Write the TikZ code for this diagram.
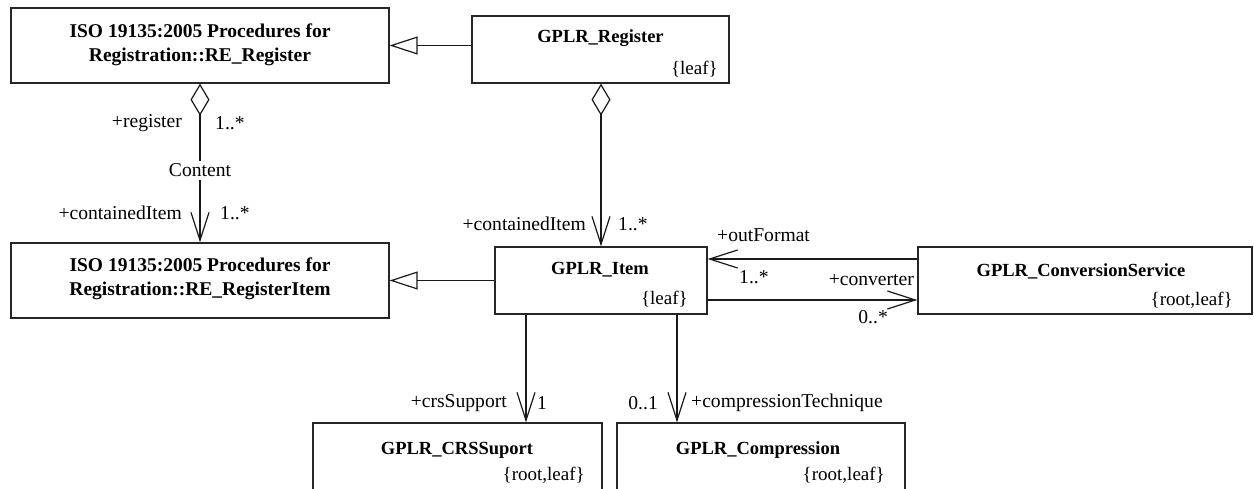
\documentclass[tikz,border=0pt]{standalone}
\usepackage{fontspec}
\setmainfont{Liberation Serif}
\usetikzlibrary{arrows.meta}
\begin{document}
\begin{tikzpicture}[x=1pt,y=-1pt,
  box/.style={draw=black!85,line width=1.3pt,rectangle,inner sep=0pt,anchor=center},
  ttl/.style={font=\fontsize{18.5}{24}\selectfont\bfseries,inner sep=0pt,align=center},
  bigttl/.style={font=\fontsize{19.5}{24}\selectfont\bfseries,inner sep=0pt,align=center},
  stereo/.style={font=\fontsize{19}{22}\selectfont,inner sep=0pt,anchor=east},
  lbl/.style={font=\fontsize{19.6}{22}\selectfont,inner sep=0pt},
  conn/.style={draw=black!90,line width=1.2pt},
  gen/.style={conn,-{Triangle[open,length=28pt,width=18pt]}},
  agg/.style={conn,{Diamond[open,length=32pt,width=19pt]}-{Straight Barb[length=28pt,width=18pt]}},
  assoc/.style={conn,-{Straight Barb[length=28pt,width=18pt]}}
]
\useasboundingbox (0,0) rectangle (1254,488);
\clip (0,0) rectangle (1254,488);
\fill[white] (0,0) rectangle (1254,488);

% boxes
\node[box,minimum width=378pt,minimum height=75pt] (rereg) at (200,45.5) {};
\node[bigttl] (reregt) at (200,45) {ISO 19135:2005 Procedures for\\Registration::RE\_Register};
\node[box,minimum width=257pt,minimum height=67pt] (gplrreg) at (600.5,49.5) {};
\node[ttl] (gplrregt) at (600.5,38) {GPLR\_Register};
\node[stereo] (gplrregs) at (718,69) {\{leaf\}};

\node[box,minimum width=378pt,minimum height=75pt] (reitem) at (200,280.5) {};
\node[bigttl] (reitemt) at (200,279) {ISO 19135:2005 Procedures for\\Registration::RE\_RegisterItem};
\node[box,minimum width=212pt,minimum height=67pt] (gitem) at (601,280.5) {};
\node[ttl] (gitemt) at (600,270) {GPLR\_Item};
\node[stereo] (gitems) at (688,299) {\{leaf\}};

\node[box,minimum width=334pt,minimum height=67pt] (conv) at (1085,280.5) {};
\node[ttl] (convt) at (1081,271) {GPLR\_ConversionService};
\node[stereo] (convs) at (1233,300) {\{root,leaf\}};

\node[box,minimum width=289pt,minimum height=90pt] (crs) at (457.5,468) {};
\node[ttl] (crst) at (457,450) {GPLR\_CRSSuport};
\node[stereo] (crss) at (585,475) {\{root,leaf\}};

\node[box,minimum width=288pt,minimum height=90pt] (comp) at (761,468) {};
\node[ttl] (compt) at (758,450) {GPLR\_Compression};
\node[stereo] (comps) at (885,475) {\{root,leaf\}};

% generalizations
\draw[gen] (gplrreg.west |- rereg.east) -- (rereg.east);
\draw[gen] (gitem.west |- reitem.east) -- (reitem.east);

% aggregations
\draw[agg] (rereg.south) -- node[pos=0.547,fill=white,lbl,inner sep=3pt] (content) {Content} (reitem.north);
\draw[agg] (gplrreg.south -| gitem.north) -- (gitem.north);

% associations with conversion service
\draw[assoc] ([yshift=21.5pt]conv.west) -- ([yshift=21.5pt]conv.west -| gitem.east);
\draw[assoc] ([yshift=-19.5pt]gitem.east) -- ([yshift=-19.5pt]gitem.east -| conv.west);

% down to CRS / compression
\draw[assoc] ([xshift=-75pt]gitem.south) -- ([xshift=-75pt]gitem.south |- crs.north);
\draw[assoc] ([xshift=76pt]gitem.south) -- ([xshift=76pt]gitem.south |- comp.north);

% role labels
\node[lbl,anchor=east] (l1) at (182,123) {+register};
\node[lbl,anchor=west] (l2) at (215,123) {1..*};
\node[lbl,anchor=east] (l3) at (182,213) {+containedItem};
\node[lbl,anchor=west] (l4) at (220,213) {1..*};
\node[lbl,anchor=east] (l5) at (586,224) {+containedItem};
\node[lbl,anchor=west] (l6) at (618,224) {1..*};
\node[lbl,anchor=west] (l7) at (717,235) {+outFormat};
\node[lbl,anchor=west] (l8) at (739,277) {1..*};
\node[lbl,anchor=east] (l9) at (914,280) {+converter};
\node[lbl,anchor=east] (l10) at (888,317) {0..*};
\node[lbl,anchor=east] (l11) at (507,403) {+crsSupport};
\node[lbl,anchor=west] (l12) at (537,403) {1};
\node[lbl,anchor=east] (l13) at (658,403) {0..1};
\node[lbl,anchor=west] (l14) at (691,403) {+compressionTechnique};
\end{tikzpicture}
\end{document}
